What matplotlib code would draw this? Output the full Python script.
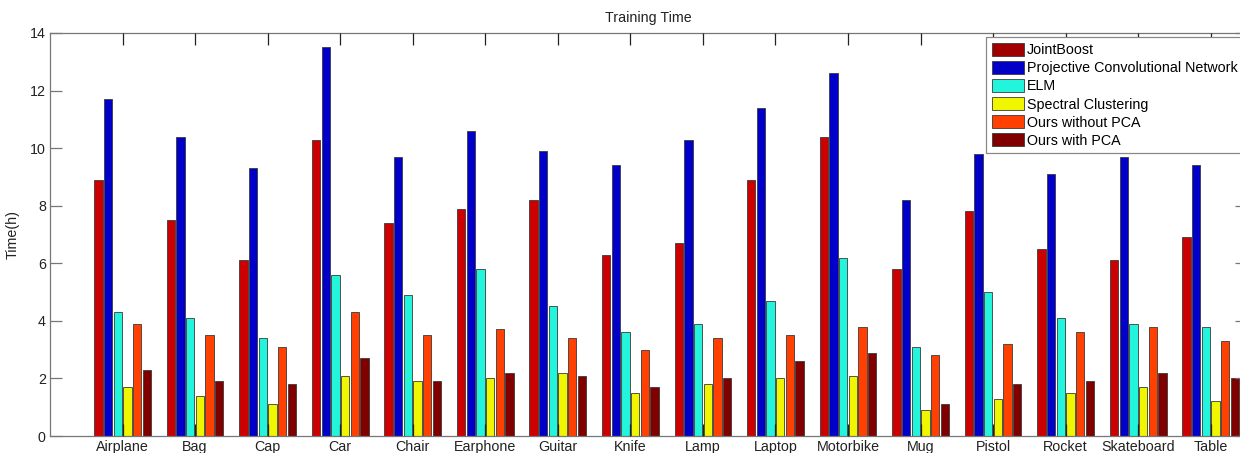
import numpy as np
import matplotlib
matplotlib.use("Agg")
import matplotlib.pyplot as plt

plt.rcParams["font.family"] = ["Liberation Sans", "DejaVu Sans"]

categories = ["Airplane", "Bag", "Cap", "Car", "Chair", "Earphone", "Guitar", "Knife",
              "Lamp", "Laptop", "Motorbike", "Mug", "Pistol", "Rocket", "Skateboard", "Table"]
methods = ["JointBoost", "Projective Convolutional Network", "ELM",
           "Spectral Clustering", "Ours without PCA", "Ours with PCA"]

jointboost = [8.9, 7.5, 6.1, 10.3, 7.4, 7.9, 8.2, 6.3, 6.7, 8.9, 10.4, 5.8, 7.8, 6.5, 6.1, 6.9]
pcn = [11.7, 10.4, 9.3, 13.5, 9.7, 10.6, 9.9, 9.4, 10.3, 11.4, 12.6, 8.2, 9.8, 9.1, 9.7, 9.4]
elm = [4.3, 4.1, 3.4, 5.6, 4.9, 5.8, 4.5, 3.6, 3.9, 4.7, 6.2, 3.1, 5.0, 4.1, 3.9, 3.8]
spectral = [1.7, 1.4, 1.1, 2.1, 1.9, 2.0, 2.2, 1.5, 1.8, 2.0, 2.1, 0.9, 1.3, 1.5, 1.7, 1.2]
ours_no_pca = [3.9, 3.5, 3.1, 4.3, 3.5, 3.7, 3.4, 3.0, 3.4, 3.5, 3.8, 2.8, 3.2, 3.6, 3.8, 3.3]
ours_pca = [2.3, 1.9, 1.8, 2.7, 1.9, 2.2, 2.1, 1.7, 2.0, 2.6, 2.9, 1.1, 1.8, 1.9, 2.2, 2.0]

series = [jointboost, pcn, elm, spectral, ours_no_pca, ours_pca]
colors = ["#cc0000", "#0000c8", "#22f5dc", "#f0f500", "#ff4000", "#800000"]
legend_colors = ["#a00000", "#0000c8", "#22f5dc", "#f0f500", "#ff4000", "#800000"]

FS = 10.3
W, H = 1240, 453
fig = plt.figure(figsize=(W / 100, H / 100), dpi=100)
# axes runs slightly past the right edge of the canvas
ax = fig.add_axes([50 / W, 17 / H, 1197 / W, 403 / H])

x = np.arange(1, len(categories) + 1)
n = len(series)
pitch = 0.8 / n
for j, (vals, c, lab) in enumerate(zip(series, colors, methods)):
    ax.bar(x + (j - (n - 1) / 2) * pitch, vals, width=pitch * 0.86, color=c,
           edgecolor="#3a3a3a", linewidth=0.6, label=lab, zorder=1)

ax.set_xlim(0, 16.5)
ax.set_ylim(0, 14)
ax.set_yticks(np.arange(0, 15, 2))
ax.set_xticks(x)
ax.set_xticklabels(categories)
ax.set_axisbelow(False)

spine_col = "#777777"
for s in ax.spines.values():
    s.set_color(spine_col)
    s.set_linewidth(0.9)
ax.tick_params(direction="in", length=8.5, width=0.9, color=spine_col,
               top=True, right=True, labelsize=FS, pad=3, labelcolor="#222222")
ax.tick_params(axis="x", colors="#222222", labelcolor="#222222", pad=3)

ax.set_title("Training Time", fontsize=FS, pad=8, color="#222222")
ax.set_ylabel("Time(h)", fontsize=FS, labelpad=7, color="#222222")

leg = ax.legend(loc="upper left", bbox_to_anchor=(986 / W, 1 - 37 / H),
                bbox_transform=fig.transFigure, fontsize=FS, fancybox=False,
                edgecolor="#888888", framealpha=1, borderaxespad=0, borderpad=0.4,
                handlelength=2.25, handleheight=1.05, handletextpad=0.2,
                labelspacing=0.25)
leg.get_frame().set_linewidth(0.9)
for h, c in zip(leg.legend_handles, legend_colors):
    h.set_facecolor(c)

fig.savefig("out.png", dpi=100)
